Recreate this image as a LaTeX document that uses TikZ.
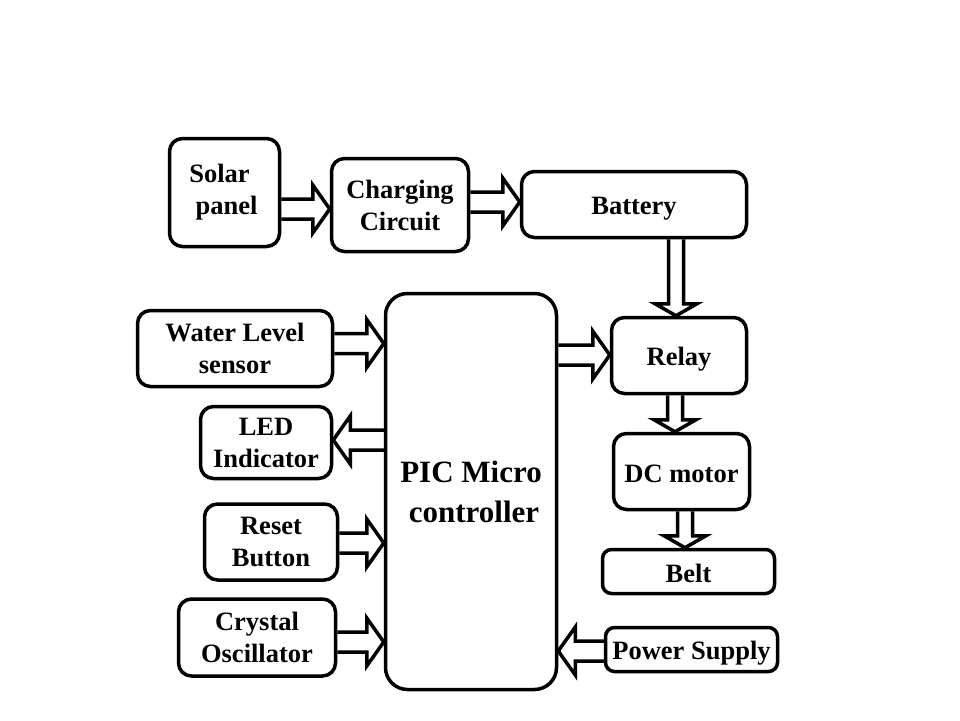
\documentclass[tikz,border=0pt]{standalone}
\usepackage{fontspec}
\setmainfont{Liberation Serif}
\usetikzlibrary{calc}
\tikzset{
  blk/.style={draw=black, line width=3.5pt, rounded corners=13pt, fill=white,
    inner sep=0pt, align=center,
    font=\fontsize{26.5}{32}\selectfont\bfseries},
  barrow/.style={draw=black, line width=3.5pt, line join=miter},
}
% #1 tail, #2 tip, #3 half shaft width, #4 half head width, #5 head length
\newcommand\blockarr[5]{%
  \coordinate (bab) at ($(#2)!#5!(#1)$);
  \draw[barrow] ($(#1)!#3!90:(#2)$) -- ($(bab)!#3!90:(#2)$) -- ($(bab)!#4!90:(#2)$)
    -- (#2) -- ($(bab)!#4!-90:(#2)$) -- ($(bab)!#3!-90:(#2)$) -- ($(#1)!#3!-90:(#2)$);
}
\newcommand\lowtxt[2]{\raisebox{-#1}[\height][\depth]{#2}}
\begin{document}
\begin{tikzpicture}[x=1pt,y=-1pt]
\fill[white] (0,0) rectangle (960,720);
\useasboundingbox (0,0) rectangle (960,720);

\node[blk, minimum width=110pt, minimum height=108pt] (solar) at (224.5,192.5) {Solar\hspace*{10pt}\\\hspace*{4pt}panel};
\node[blk, minimum width=137pt, minimum height=93pt] (charge) at (400,205) {Charging\\Circuit};
\node[blk, minimum width=225pt, minimum height=66pt] (battery) at (634,204.5) {\lowtxt{4pt}{Battery}};
\node[blk, minimum width=171pt, minimum height=396pt, rounded corners=22pt,
  font=\fontsize{31}{40}\selectfont\bfseries] (pic) at (471,491.5) {PIC Micro\\\hspace*{6pt}controller};
\node[blk, minimum width=195pt, minimum height=76pt] (water) at (235,348.5) {Water Level\\sensor};
\node[blk, minimum width=131pt, minimum height=72pt] (led) at (266,442.5) {LED\\Indicator};
\node[blk, minimum width=133pt, minimum height=76pt] (reset) at (271,542) {Reset\\Button};
\node[blk, minimum width=157pt, minimum height=77pt] (crystal) at (257,637.5) {Crystal\\Oscillator};
\node[blk, minimum width=135pt, minimum height=76pt] (relay) at (679,355.5) {\lowtxt{4pt}{Relay}};
\node[blk, minimum width=136pt, minimum height=76pt] (dc) at (681.5,471.5) {\lowtxt{2pt}{DC motor}};
\node[blk, minimum width=172pt, minimum height=44pt, rounded corners=9pt] (belt) at (688.5,571.5) {\lowtxt{2pt}{Belt}};
\node[blk, minimum width=172pt, minimum height=44pt, rounded corners=9pt] (power) at (691.5,649.5) {\lowtxt{4pt}{Power Supply}};

\coordinate (a1s) at (solar.east |- 0,209);  \coordinate (a1e) at (charge.west |- 0,209);
\coordinate (a2s) at (charge.east |- 0,202); \coordinate (a2e) at (battery.west |- 0,202);
\coordinate (a3s) at (battery.south -| 676,0); \coordinate (a3e) at (relay.north -| 676,0);
\coordinate (a4s) at (water.east |- 0,343.5); \coordinate (a4e) at (pic.west |- 0,343.5);
\coordinate (a5s) at (pic.west |- 0,440); \coordinate (a5e) at (led.east |- 0,440);
\coordinate (a6s) at (reset.east |- 0,543); \coordinate (a6e) at (pic.west |- 0,543);
\coordinate (a7s) at (crystal.east |- 0,642); \coordinate (a7e) at (pic.west |- 0,642);
\coordinate (a8s) at (pic.east |- 0,355); \coordinate (a8e) at (relay.west |- 0,355);
\coordinate (a9s) at (relay.south -| 675,0); \coordinate (a9e) at (dc.north -| 675,0);
\coordinate (a10s) at (dc.south -| 685,0); \coordinate (a10e) at (belt.north -| 685,0);
\coordinate (a11s) at (power.west |- 0,651); \coordinate (a11e) at (pic.east |- 0,651);

\blockarr{a1s}{a1e}{10pt}{24pt}{17pt}
\blockarr{a2s}{a2e}{10pt}{24pt}{17pt}
\blockarr{a3s}{a3e}{7.5pt}{21pt}{12pt}
\blockarr{a4s}{a4e}{10pt}{24pt}{17pt}
\blockarr{a5s}{a5e}{10pt}{24pt}{17pt}
\blockarr{a6s}{a6e}{10pt}{24pt}{17pt}
\blockarr{a7s}{a7e}{10pt}{24pt}{17pt}
\blockarr{a8s}{a8e}{10pt}{24pt}{17pt}
\blockarr{a9s}{a9e}{7.5pt}{21pt}{12pt}
\blockarr{a10s}{a10e}{7.5pt}{21pt}{12pt}
\blockarr{a11s}{a11e}{10pt}{24pt}{17pt}
\end{tikzpicture}
\end{document}
